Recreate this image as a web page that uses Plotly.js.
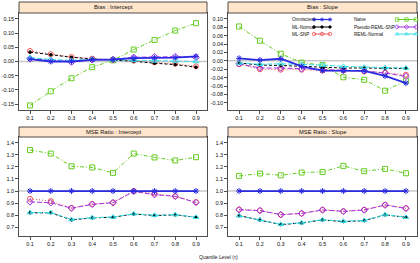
<!DOCTYPE html>
<html>
<head>
<meta charset="utf-8">
<script src="https://cdn.plot.ly/plotly-3.0.1.min.js"></script>
<style>
  html, body { margin: 0; padding: 0; background: #fff; }
  #chart { width: 420px; height: 263px; }
</style>
</head>
<body>
<div id="chart"></div>
<script>
// Quantile levels
const tau = [0.1, 0.2, 0.3, 0.4, 0.5, 0.6, 0.7, 0.8, 0.9];

// Bias of the intercept
const biasIntOmniscient = [0.008, 0.0, 0.0, 0.006, 0.007, 0.012, 0.013, 0.014, 0.018];
const biasIntMLNormal   = [0.033, 0.024, 0.015, 0.009, 0.006, 0.001, -0.006, -0.011, -0.020];
const biasIntMLSNP      = [0.037, 0.026, 0.016, 0.010, 0.006, 0.003, -0.003, -0.008, -0.017];
const biasIntNaive      = [-0.155, -0.105, -0.059, -0.020, 0.004, 0.042, 0.076, 0.109, 0.135];
const biasIntPseudo     = [0.010, 0.004, -0.002, 0.006, 0.007, 0.015, 0.017, 0.017, 0.015];
const biasIntREMLNormal = [0.014, 0.007, 0.004, 0.008, 0.006, 0.004, 0.002, 0.002, 0.0];

// Bias of the slope
const biasSlpOmniscient = [0.006, 0.002, 0.005, -0.013, -0.023, -0.023, -0.024, -0.036, -0.053];
const biasSlpMLNormal   = [-0.005, -0.010, -0.011, -0.013, -0.016, -0.017, -0.017, -0.018, -0.018];
const biasSlpMLSNP      = [-0.008, -0.020, -0.021, -0.021, -0.023, -0.023, -0.025, -0.028, -0.033];
const biasSlpNaive      = [0.082, 0.048, 0.017, -0.004, -0.010, -0.039, -0.045, -0.071, -0.047];
const biasSlpPseudo     = [-0.007, -0.017, -0.017, -0.019, -0.021, -0.022, -0.024, -0.029, -0.037];
const biasSlpREMLNormal = [-0.005, -0.008, -0.007, -0.008, -0.010, -0.013, -0.015, -0.016, -0.017];

// MSE ratio of the intercept
const mseIntOmniscient = [1, 1, 1, 1, 1, 1, 1, 1, 1];
const mseIntMLNormal   = [0.820, 0.820, 0.761, 0.778, 0.783, 0.810, 0.797, 0.803, 0.783];
const mseIntMLSNP      = [0.936, 0.917, 0.860, 0.892, 0.906, 1.000, 0.978, 0.956, 0.908];
const mseIntNaive      = [1.339, 1.310, 1.205, 1.195, 1.150, 1.310, 1.278, 1.253, 1.280];
const mseIntPseudo     = [0.910, 0.903, 0.858, 0.890, 0.903, 0.997, 0.970, 0.956, 0.905];
const mseIntREMLNormal = [0.822, 0.822, 0.765, 0.780, 0.785, 0.812, 0.800, 0.805, 0.783];

// MSE ratio of the slope
const mseSlpOmniscient = [1, 1, 1, 1, 1, 1, 1, 1, 1];
const mseSlpMLNormal   = [0.797, 0.761, 0.722, 0.736, 0.761, 0.747, 0.755, 0.803, 0.783];
const mseSlpMLSNP      = [0.847, 0.840, 0.803, 0.814, 0.845, 0.833, 0.845, 0.886, 0.858];
const mseSlpNaive      = [1.125, 1.145, 1.130, 1.153, 1.158, 1.208, 1.164, 1.183, 1.147];
const mseSlpPseudo     = [0.845, 0.838, 0.805, 0.815, 0.843, 0.832, 0.843, 0.884, 0.856];
const mseSlpREMLNormal = [0.795, 0.763, 0.725, 0.738, 0.763, 0.750, 0.757, 0.805, 0.783];

// Tick labels
const xTicks = [0.1, 0.2, 0.3, 0.4, 0.5, 0.6, 0.7, 0.8, 0.9];
const yTicksBiasInt = [-0.15, -0.10, -0.05, 0.00, 0.05, 0.10, 0.15];
const yTicksBiasSlp = [-0.10, -0.08, -0.06, -0.04, -0.02, 0.00, 0.02, 0.04, 0.06, 0.08, 0.10];
const yTicksMSE = [0.7, 0.8, 0.9, 1.0, 1.1, 1.2, 1.3, 1.4];

const panelTitles = ['Bias : Intercept', 'Bias : Slope', 'MSE Ratio : Intercept', 'MSE Ratio : Slope'];
const xTitle = 'Quantile Level (\u03c4)';

// Series styles (drawing order: later series sit on top)
const FONT = 'Liberation Sans, Arial, sans-serif';
const series = [
  { name: 'Naive',           color: '#66cc22', dash: '4px,2px,1px,2px', width: 1,   symbol: 'square-open',   size: 5,
    data: [biasIntNaive, biasSlpNaive, mseIntNaive, mseSlpNaive] },
  { name: 'ML-SNP',          color: '#ee5555', dash: '1px,2px',          width: 1,   symbol: 'circle-open',   size: 5,
    data: [biasIntMLSNP, biasSlpMLSNP, mseIntMLSNP, mseSlpMLSNP] },
  { name: 'Pseudo-REML-SNP', color: '#a030e0', dash: '5px,2px',          width: 1,   symbol: 'diamond-open',  size: 5,
    data: [biasIntPseudo, biasSlpPseudo, mseIntPseudo, mseSlpPseudo] },
  { name: 'ML-Normal',       color: '#000000', dash: '3px,2px',          width: 1,   symbol: 'circle',        size: 2.5,
    data: [biasIntMLNormal, biasSlpMLNormal, mseIntMLNormal, mseSlpMLNormal] },
  { name: 'REML-Normal',     color: '#33dde8', dash: '5px,2px',          width: 1,   symbol: 'triangle-up-open', size: 5,
    data: [biasIntREMLNormal, biasSlpREMLNormal, mseIntREMLNormal, mseSlpREMLNormal] },
  { name: 'Omniscient',      color: '#2a2ae0', dash: 'solid',            width: 1.8, symbol: 'asterisk-open', size: 5,
    data: [biasIntOmniscient, biasSlpOmniscient, mseIntOmniscient, mseSlpOmniscient] }
];

// Key layout: [series name, column, row]
const keyOrder = [
  ['Omniscient', 0, 0], ['ML-Normal', 0, 1], ['ML-SNP', 0, 2],
  ['Naive', 1, 0], ['Pseudo-REML-SNP', 1, 1], ['REML-Normal', 1, 2]
];

const W = 420, H = 263;
const px = v => v / W;
const py = v => 1 - v / H;

// Panel boxes in pixels: [left, right, top, bottom]
const panels = [
  [19, 207, 13, 110],
  [228, 417, 13, 110],
  [19, 207, 137, 236],
  [228, 417, 137, 236]
];
const stripH = [11, 11, 10, 10];
const yRanges = [[-0.171, 0.171], [-0.117, 0.114], [0.628, 1.447], [0.628, 1.447]];
const yTickSets = [yTicksBiasInt, yTicksBiasSlp, yTicksMSE, yTicksMSE];
const yDigits = [2, 2, 1, 1];
const refLines = [0, 0, 1, 1];

const traces = [];
const axisSuffix = ['', '2', '3', '4'];

series.forEach(s => {
  s.data.forEach((vals, p) => {
    traces.push({
      type: 'scatter', mode: 'lines+markers',
      x: tau, y: vals,
      xaxis: 'x' + axisSuffix[p], yaxis: 'y' + axisSuffix[p],
      name: s.name, showlegend: false, cliponaxis: false,
      line: { color: s.color, width: s.width, dash: s.dash },
      marker: { symbol: s.symbol, size: s.size, color: s.color, line: { color: s.color, width: 1 } }
    });
  });
});

// Key entries drawn on an overlay axis measured in pixels
const keyTextX = [291, 353];
const keyLineX = [[314, 330], [397, 416]];
const keyRowY = [19.5, 27, 34];
const annotations = [];
keyOrder.forEach(([nm, col, row]) => {
  const s = series.find(d => d.name === nm);
  const [a, b] = keyLineX[col];
  traces.push({
    type: 'scatter', mode: 'lines+markers',
    x: [a, (a + b) / 2, b], y: [keyRowY[row], keyRowY[row], keyRowY[row]],
    xaxis: 'x5', yaxis: 'y5', showlegend: false, cliponaxis: false,
    line: { color: s.color, width: Math.min(s.width, 1.2), dash: 'solid' },
    marker: { symbol: s.symbol, size: Math.min(s.size, 3.5), color: s.color, line: { color: s.color, width: 0.8 } }
  });
  annotations.push({
    xref: 'x5', yref: 'y5', x: keyTextX[col], y: keyRowY[row],
    text: nm, showarrow: false, xanchor: 'left', yanchor: 'middle',
    font: { family: FONT, size: 4.6, color: '#111' }, borderpad: 0
  });
});

const layout = {
  width: W, height: H,
  margin: { l: 0, r: 0, t: 0, b: 0 },
  paper_bgcolor: '#ffffff', plot_bgcolor: 'rgba(0,0,0,0)',
  showlegend: false,
  font: { family: FONT, size: 5.5, color: '#111' },
  shapes: [], annotations: annotations,
  xaxis5: { domain: [0, 1], range: [0, W], visible: false, fixedrange: true, anchor: 'y5' },
  yaxis5: { domain: [0, 1], range: [H, 0], visible: false, fixedrange: true, anchor: 'x5' }
};

panels.forEach((b, p) => {
  const sfx = axisSuffix[p];
  const [l, r, t, bt] = b;
  layout['xaxis' + sfx] = {
    domain: [px(l), px(r)], range: [0.047, 0.953], anchor: 'y' + sfx,
    tickvals: xTicks, ticktext: xTicks.map(v => v.toFixed(1)),
    ticks: 'outside', ticklen: 3, tickwidth: 0.8, tickcolor: '#222',
    showline: true, mirror: true, linecolor: '#222', linewidth: 0.8,
    showgrid: false, zeroline: false,
    tickfont: { family: FONT, size: 5.5, color: '#111' }
  };
  layout['yaxis' + sfx] = {
    domain: [py(bt), py(t)], range: yRanges[p], anchor: 'x' + sfx,
    tickvals: yTickSets[p], ticktext: yTickSets[p].map(v => v.toFixed(yDigits[p])),
    ticks: 'outside', ticklen: 3, tickwidth: 0.8, tickcolor: '#222',
    showline: true, mirror: true, linecolor: '#222', linewidth: 0.8,
    showgrid: false, zeroline: false,
    tickfont: { family: FONT, size: 5.5, color: '#111' }
  };
  // reference line
  layout.shapes.push({
    type: 'line', layer: 'below', xref: 'x' + sfx + ' domain', yref: 'y' + sfx,
    x0: 0, x1: 1, y0: refLines[p], y1: refLines[p],
    line: { color: '#c8c8c8', width: 1.5 }
  });
  // strip
  layout.shapes.push({
    type: 'rect', xref: 'paper', yref: 'paper',
    x0: px(l), x1: px(r), y0: py(t), y1: py(t - stripH[p]),
    fillcolor: '#ffe5cc', line: { color: '#222', width: 0.8 }
  });
  annotations.push({
    xref: 'paper', yref: 'paper', x: px((l + r) / 2), y: py(t - stripH[p] / 2),
    text: panelTitles[p], showarrow: false, xanchor: 'center', yanchor: 'middle',
    font: { family: FONT, size: 5.8, color: '#111' }
  });
});

annotations.push({
  xref: 'paper', yref: 'paper', x: px(218), y: py(257),
  text: xTitle, showarrow: false, xanchor: 'center', yanchor: 'middle',
  font: { family: FONT, size: 5, color: '#111' }
});

Plotly.newPlot('chart', traces, layout, { staticPlot: true, displayModeBar: false });
</script>
</body>
</html>
